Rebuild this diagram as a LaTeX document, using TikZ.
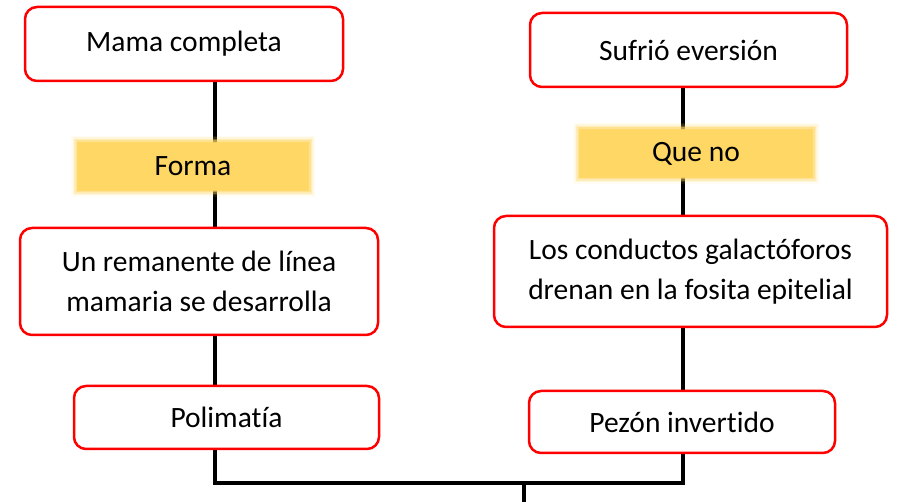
\documentclass[tikz,border=0pt]{standalone}
\usepackage{fontspec}
\setmainfont{Carlito}[Ligatures={NoCommon}]
\usetikzlibrary{backgrounds}
\definecolor{gold}{RGB}{255,215,100}
\tikzset{
  x=1pt,y=1pt,
  redbox/.style={draw=red, line width=2.5pt, rounded corners=12pt, fill=white,
    align=center, inner sep=0pt, font=\fontsize{29.5}{40}\selectfont},
  glowbox/.style={fill=gold, inner sep=0pt, font=\fontsize{29.5}{36}\selectfont,
    preaction={draw=gold, line width=14pt, opacity=0.08, rounded corners=6pt},
    preaction={draw=gold, line width=11pt, opacity=0.15, rounded corners=5pt},
    preaction={draw=gold, line width=8pt, opacity=0.3, rounded corners=4pt},
    preaction={draw=gold, line width=5pt, opacity=0.5, rounded corners=2pt},
    preaction={draw=gold, line width=2pt, opacity=0.8}},
  conn/.style={line width=3.2pt, black}
}
\begin{document}
\begin{tikzpicture}
\useasboundingbox (0,0) rectangle (919,502);
\node[redbox, minimum width=318pt, minimum height=74pt] (b1) at (184,458) {Mama completa};
\node[redbox, minimum width=317pt, minimum height=74pt] (b2) at (688.5,452) {Sufrió eversión};
\node[glowbox, minimum width=230pt, minimum height=47pt] (f1) at (193,335.5) {Forma};
\node[glowbox, minimum width=232pt, minimum height=47pt] (q1) at (696,348.5) {Que no};
\node[redbox, minimum width=358pt, minimum height=107pt] (b3) at (199,220.5) {Un remanente de línea\\mamaria se desarrolla};
\node[redbox, minimum width=393pt, minimum height=111pt] (b4) at (690.5,230.5) {Los conductos galactóforos\\drenan en la fosita epitelial};
\node[redbox, minimum width=305pt, minimum height=63pt] (b5) at (226.5,84.5) {Polimatía};
\node[redbox, minimum width=306pt, minimum height=62pt] (b6) at (682,80) {Pezón invertido};
\coordinate (jl) at (215,19);
\coordinate (jr) at (683,19);
\coordinate (jm) at (524,19);
\coordinate (fin) at (524,-2);
\begin{scope}[on background layer]
\draw[conn] (b1.south -| jl) -- (b3.north -| jl);
\draw[conn] (b3.south -| jl) -- (b5.north -| jl);
\draw[conn] (b2.south -| jr) -- (b4.north -| jr);
\draw[conn] (b4.south -| jr) -- (b6.north -| jr);
\draw[conn] (b5.south -| jl) -- (jl) -- (jr) -- (b6.south -| jr);
\draw[conn] (jm) -- (fin);
\end{scope}
\end{tikzpicture}
\end{document}
